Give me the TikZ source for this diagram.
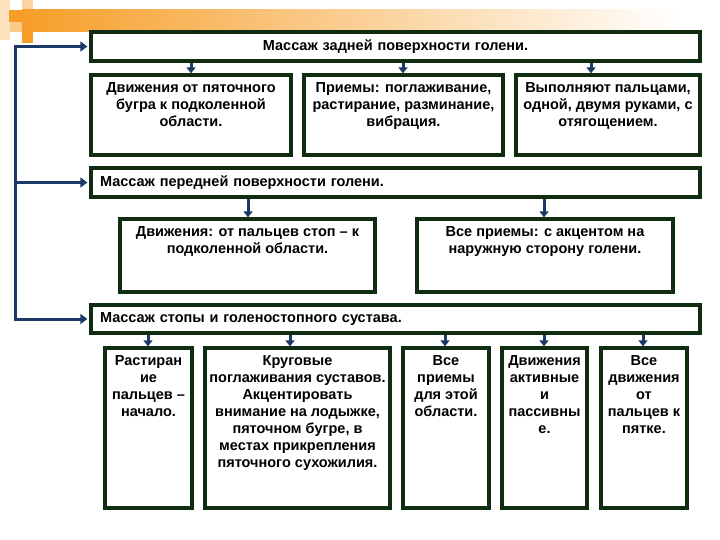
\documentclass[tikz,border=0pt]{standalone}
\usepackage{fontspec}
\setmainfont{Liberation Sans}
\usetikzlibrary{arrows.meta}
\definecolor{boxgreen}{RGB}{16,44,16}
\definecolor{arrownavy}{RGB}{28,58,105}
\definecolor{orng}{RGB}{246,158,40}
\definecolor{salmon}{RGB}{250,196,165}
\newcommand{\cellbox}[3]{\parbox[c][#2][t]{#1}{\centering\vspace*{8pt}#3\par}}
\begin{document}
\begin{tikzpicture}[x=1pt,y=-1pt,
  txt/.style={font=\bfseries\fontsize{14.5}{17}\selectfont},
  cell/.style={txt, draw=boxgreen, line width=3.3pt, fill=white, inner sep=0pt},
  head/.style={txt, draw=boxgreen, line width=3.3pt, fill=white, inner ysep=0pt, inner xsep=9pt,
    text width=591pt, minimum height=29pt},
  arr/.style={draw=arrownavy, line width=3pt, -{Triangle[length=6pt,width=9pt]}},
  brk/.style={draw=arrownavy, line width=3pt, {Triangle[length=7pt,width=10pt]}-{Triangle[length=7pt,width=10pt]}}
]
\useasboundingbox (0,0) rectangle (720,540);
\fill[white] (0,0) rectangle (720,540);
% top-left decoration
\fill[orng!30] (0,0) rectangle (10,40);
\fill[orng!45] (22,0) rectangle (33,10);
\shade[left color=orng, middle color=salmon, right color=white] (22,10) rectangle (680,32);
\fill[orng] (9,10) rectangle (22,22);
\fill[orng!55] (10,22) rectangle (22,32);
\fill[orng] (22,32) rectangle (33,43);

% headers
\node[head, align=center] (h1) at (395.5,46.5) {Массаж задней поверхности голени.};
\node[head, align=left, minimum height=29pt] (h2) at (395.5,182.5) {Массаж передней поверхности голени.};
\node[head, align=left, minimum height=28pt] (h3) at (395.5,319) {Массаж стопы и голеностопного сустава.};

% row 1
\node[cell] (r1a) at (191,115) {\cellbox{200pt}{80pt}{Движения от пяточного\\ бугра к подколенной\\ области.}};
\node[cell] (r1b) at (403.5,115) {\cellbox{199pt}{80pt}{Приемы: поглаживание,\\ растирание, разминание,\\ вибрация.}};
\node[cell] (r1c) at (608,115) {\cellbox{184pt}{80pt}{Выполняют пальцами,\\ одной, двумя руками, с\\ отягощением.}};

% row 2
\node[cell] (r2a) at (247.5,255.5) {\cellbox{255pt}{73pt}{Движения: от пальцев стоп – к\\ подколенной области.}};
\node[cell] (r2b) at (545,255.5) {\cellbox{256pt}{73pt}{Все приемы: с акцентом на\\ наружную сторону голени.}};

% row 3
\node[cell] (r3a) at (148.5,428) {\cellbox{87pt}{160pt}{Растиран\\ ие\\ пальцев –\\ начало.}};
\node[cell] (r3b) at (297.5,428) {\cellbox{185pt}{160pt}{Круговые\\ поглаживания суставов.\\ Акцентировать\\ внимание на лодыжке,\\ пяточном бугре, в\\ местах прикрепления\\ пяточного сухожилия.}};
\node[cell] (r3c) at (446,428) {\cellbox{86pt}{160pt}{Все\\ приемы\\ для этой\\ области.}};
\node[cell] (r3d) at (544.5,428) {\cellbox{85pt}{160pt}{Движения\\ активные\\ и\\ пассивны\\ е.}};
\node[cell] (r3e) at (644,428) {\cellbox{86pt}{160pt}{Все\\ движения\\ от\\ пальцев к\\ пятке.}};

% arrow x positions
\coordinate (x11) at (191,0);
\coordinate (x12) at (403,0);
\coordinate (x13) at (591,0);
\coordinate (x21) at (248,0);
\coordinate (x22) at (544,0);
\coordinate (x31) at (148,0);
\coordinate (x32) at (290,0);
\coordinate (x33) at (445,0);
\coordinate (x34) at (544,0);
\coordinate (x35) at (643,0);

\draw[arr] (h1.south -| x11) -- (r1a.north -| x11);
\draw[arr] (h1.south -| x12) -- (r1b.north -| x12);
\draw[arr] (h1.south -| x13) -- (r1c.north -| x13);
\draw[arr] (h2.south -| x21) -- (r2a.north -| x21);
\draw[arr] (h2.south -| x22) -- (r2b.north -| x22);
\draw[arr] (h3.south -| x31) -- (r3a.north -| x31);
\draw[arr] (h3.south -| x32) -- (r3b.north -| x32);
\draw[arr] (h3.south -| x33) -- (r3c.north -| x33);
\draw[arr] (h3.south -| x34) -- (r3d.north -| x34);
\draw[arr] (h3.south -| x35) -- (r3e.north -| x35);

% left bracket
\coordinate (bx) at (15,0);
\draw[brk] ([xshift=-2pt]h3.west) -- (h3.west -| bx) -- (h1.west -| bx) -- ([xshift=-2pt]h1.west);
\draw[arr, -{Triangle[length=7pt,width=10pt]}] (h2.west -| bx) -- ([xshift=-2pt]h2.west);
\end{tikzpicture}
\end{document}
